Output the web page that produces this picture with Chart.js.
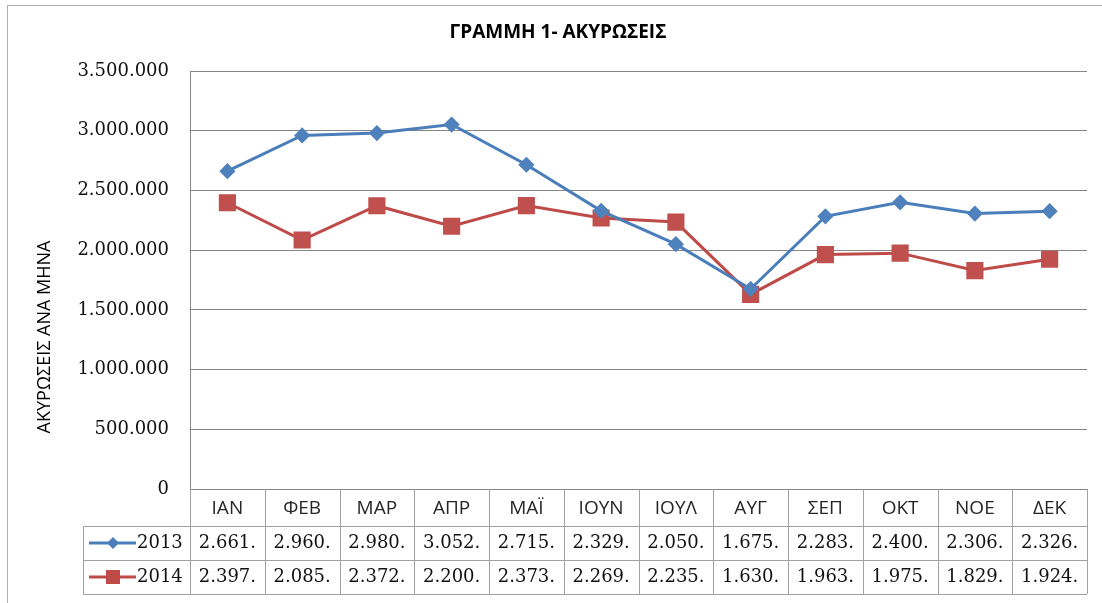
<!DOCTYPE html>
<html>
<head>
<meta charset="utf-8">
<script src="https://cdn.jsdelivr.net/npm/chart.js@4.4.0/dist/chart.umd.min.js"></script>
<style>
    html, body { margin: 0; padding: 0; background: #fff; }
    #wrap { width: 1102px; height: 603px; position: relative; }
</style>
</head>
<body>
<div id="wrap"><canvas id="chart" width="1102" height="603"></canvas></div>
<script>
/* ΓΡΑΜΜΗ 1 - ακυρώσεις ανά μήνα, 2013 vs 2014 */

const months = ['ΙΑΝ', 'ΦΕΒ', 'ΜΑΡ', 'ΑΠΡ', 'ΜΑΪ', 'ΙΟΥΝ', 'ΙΟΥΛ', 'ΑΥΓ', 'ΣΕΠ', 'ΟΚΤ', 'ΝΟΕ', 'ΔΕΚ'];
const seriesNames = ['2013', '2014'];
const values2013 = [2661000, 2960000, 2980000, 3052000, 2715000, 2329000, 2050000, 1675000, 2283000, 2400000, 2306000, 2326000];
const values2014 = [2397000, 2085000, 2372000, 2200000, 2373000, 2269000, 2235000, 1630000, 1963000, 1975000, 1829000, 1924000];
const yTicks = [0, 500000, 1000000, 1500000, 2000000, 2500000, 3000000, 3500000];

const BLUE = '#4a7ebb';
const RED = '#be4b48';
const GRID = '#868686';
const TABLE_LINE = '#a0a0a0';
const SERIF = '"DejaVu Serif", serif';
const SANS = '"Open Sans", sans-serif';

function fmt(v) {
    return String(v).replace(/\B(?=(\d{3})+(?!\d))/g, '.');
}

function hline(ctx, x1, x2, y) {
    y = Math.round(y) + 0.5;
    ctx.beginPath(); ctx.moveTo(x1, y); ctx.lineTo(x2, y); ctx.stroke();
}

function vline(ctx, x, y1, y2) {
    x = Math.round(x) + 0.5;
    ctx.beginPath(); ctx.moveTo(x, y1); ctx.lineTo(x, y2); ctx.stroke();
}

const frame = {
    id: 'frame',
    beforeDraw(chart) {
        const ctx = chart.ctx;
        ctx.save();
        ctx.strokeStyle = '#b0b0b0';
        ctx.lineWidth = 1;
        ctx.strokeRect(7.5, 5.5, 1200, 700);

        ctx.fillStyle = '#000';
        ctx.font = 'bold 19px ' + SANS;
        ctx.textAlign = 'center';
        ctx.textBaseline = 'middle';
        ctx.fillText('ΓΡΑΜΜΗ 1- ΑΚΥΡΩΣΕΙΣ', 558, 33);

        ctx.translate(45, 337);
        ctx.rotate(-Math.PI / 2);
        ctx.font = '18px ' + SANS;
        ctx.fillStyle = '#000';
        ctx.fillText('ΑΚΥΡΩΣΕΙΣ ΑΝΑ ΜΗΝΑ', 0, 0);
        ctx.restore();
    }
};

const dataTable = {
    id: 'dataTable',
    afterDraw(chart) {
        const ctx = chart.ctx;
        const area = chart.chartArea;
        const xs = chart.scales.x;
        const colW = (area.right - area.left) / months.length;
        const legLeft = 83;
        const top = area.bottom;
        const r1 = top + 37;
        const r2 = r1 + 34;
        const bot = r2 + 34;
        const rows = [values2013, values2014];
        const colors = [BLUE, RED];

        ctx.save();
        ctx.strokeStyle = TABLE_LINE;
        ctx.lineWidth = 1;
        hline(ctx, legLeft, area.right, r1);
        hline(ctx, legLeft, area.right, r2);
        hline(ctx, legLeft, area.right, bot);
        for (let i = 0; i <= months.length; i++) {
            vline(ctx, area.left + i * colW, top, bot);
        }
        vline(ctx, legLeft, r1, bot);

        ctx.textAlign = 'center';
        ctx.textBaseline = 'middle';
        ctx.font = '19px ' + SANS;
        ctx.fillStyle = '#262626';
        months.forEach(function (m, i) {
            ctx.fillText(m, xs.getPixelForValue(i), (top + r1) / 2 + 1);
        });

        ctx.font = '18px ' + SERIF;
        ctx.fillStyle = '#111';
        rows.forEach(function (vals, r) {
            const cy = r === 0 ? (r1 + r2) / 2 : (r2 + bot) / 2;
            vals.forEach(function (v, i) {
                ctx.fillText(fmt(v).slice(0, 6), xs.getPixelForValue(i), cy);
            });
        });

        // legend keys in the first column
        rows.forEach(function (vals, r) {
            const cy = Math.round(r === 0 ? (r1 + r2) / 2 : (r2 + bot) / 2);
            ctx.strokeStyle = colors[r];
            ctx.lineWidth = 3;
            ctx.beginPath(); ctx.moveTo(89, cy); ctx.lineTo(136, cy); ctx.stroke();
            ctx.fillStyle = colors[r];
            if (r === 0) {
                ctx.beginPath();
                ctx.moveTo(113, cy - 6); ctx.lineTo(119, cy); ctx.lineTo(113, cy + 6); ctx.lineTo(107, cy);
                ctx.closePath(); ctx.fill();
            } else {
                ctx.fillRect(106, cy - 7, 14, 14);
            }
            ctx.fillStyle = '#111';
            ctx.font = '18px ' + SERIF;
            ctx.textAlign = 'left';
            ctx.fillText(seriesNames[r], 137, cy);
        });
        ctx.restore();
    }
};

new Chart(document.getElementById('chart'), {
    type: 'line',
    data: {
        labels: months,
        datasets: [
            {
                label: seriesNames[0],
                data: values2013,
                borderColor: BLUE,
                borderWidth: 3,
                pointStyle: 'rectRot',
                pointRadius: 6,
                pointBackgroundColor: '#4f81bd',
                pointBorderColor: '#4f81bd',
                tension: 0,
                clip: false,
            },
            {
                label: seriesNames[1],
                data: values2014,
                borderColor: RED,
                borderWidth: 3,
                pointStyle: 'rect',
                pointRadius: 10,
                pointBackgroundColor: '#c0504d',
                pointBorderColor: '#c0504d',
                tension: 0,
                clip: false,
            },
        ],
    },
    options: {
        responsive: false,
        animation: false,
        layout: { padding: { left: 0, top: 71, right: 15, bottom: 114 } },
        plugins: {
            legend: { display: false },
            title: { display: false },
            tooltip: { enabled: false },
        },
        scales: {
            x: { type: 'category', offset: true, display: false },
            y: {
                min: 0,
                max: 3500000,
                afterBuildTicks: function (scale) {
                    scale.ticks = yTicks.map(function (v) { return { value: v }; });
                },
                afterFit: function (scale) { scale.width = 190; },
                ticks: {
                    padding: 21,
                    color: '#111',
                    font: { family: 'DejaVu Serif', size: 18 },
                    callback: function (v) { return fmt(v); },
                },
                grid: { color: GRID, drawTicks: false },
                border: { color: GRID },
            },
        },
    },
    plugins: [frame, dataTable],
});
</script>
</body>
</html>
